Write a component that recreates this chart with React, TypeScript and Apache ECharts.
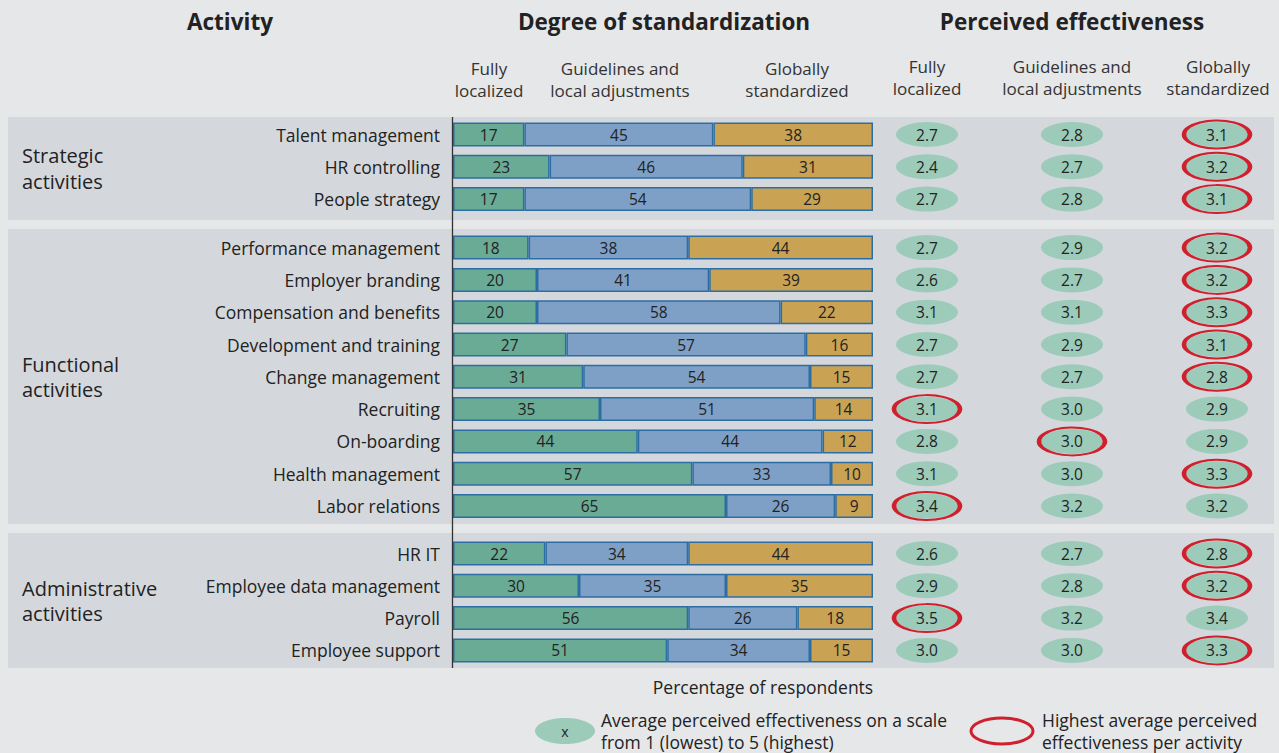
import React, { useEffect, useRef } from "react";
import * as echarts from "echarts";

const strategicActivities = ["Talent management", "HR controlling", "People strategy"];
const functionalActivities = [
  "Performance management",
  "Employer branding",
  "Compensation and benefits",
  "Development and training",
  "Change management",
  "Recruiting",
  "On-boarding",
  "Health management",
  "Labor relations",
];
const administrativeActivities = ["HR IT", "Employee data management", "Payroll", "Employee support"];

const groupLabels = ["Strategic\nactivities", "Functional\nactivities", "Administrative\nactivities"];
const standardizationLevels = ["Fully\nlocalized", "Guidelines and\nlocal adjustments", "Globally\nstandardized"];

// Degree of standardization (% of respondents)
const strategicFully = [17, 23, 17];
const strategicGuidelines = [45, 46, 54];
const strategicGlobal = [38, 31, 29];
const functionalFully = [18, 20, 20, 27, 31, 35, 44, 57, 65];
const functionalGuidelines = [38, 41, 58, 57, 54, 51, 44, 33, 26];
const functionalGlobal = [44, 39, 22, 16, 15, 14, 12, 10, 9];
const adminFully = [22, 30, 56, 51];
const adminGuidelines = [34, 35, 26, 34];
const adminGlobal = [44, 35, 18, 15];

// Perceived effectiveness (1-5)
const strategicEffLocal = [2.7, 2.4, 2.7];
const strategicEffGuidelines = [2.8, 2.7, 2.8];
const strategicEffGlobal = [3.1, 3.2, 3.1];
const functionalEffLocal = [2.7, 2.6, 3.1, 2.7, 2.7, 3.1, 2.8, 3.1, 3.4];
const functionalEffGuidelines = [2.9, 2.7, 3.1, 2.9, 2.7, 3.0, 3.0, 3.0, 3.2];
const functionalEffGlobal = [3.2, 3.2, 3.3, 3.1, 2.8, 2.9, 2.9, 3.3, 3.2];
const adminEffLocal = [2.6, 2.9, 3.5, 3.0];
const adminEffGuidelines = [2.7, 2.8, 3.2, 3.0];
const adminEffGlobal = [2.8, 3.2, 3.4, 3.3];

const groups = [
  { names: strategicActivities, pct: [strategicFully, strategicGuidelines, strategicGlobal], eff: [strategicEffLocal, strategicEffGuidelines, strategicEffGlobal] },
  { names: functionalActivities, pct: [functionalFully, functionalGuidelines, functionalGlobal], eff: [functionalEffLocal, functionalEffGuidelines, functionalEffGlobal] },
  { names: administrativeActivities, pct: [adminFully, adminGuidelines, adminGlobal], eff: [adminEffLocal, adminEffGuidelines, adminEffGlobal] },
];

const FONT = "Open Sans";
const TEXT = "#222";
const BG = "#e6e7e9";
const BAND = "#d4d8dc";
const BAR_COLORS = ["#6aab95", "#7ea0c6", "#c9a253"];
const BAR_BORDER = "#2c6ea3";
const ELL = "#9ccbb9";
const RED = "#d0202e";

const PITCH = 32.3;
const gridTops = [118.35, 231.45, 537.35];
const bands = [
  [117, 220],
  [229, 524],
  [533, 668],
];
const BAR_LEFT = 453;
const BAR_W = 420;
const EFF_LEFT = 927;
const EFF_W = 290;

export default function App() {
  const ref = useRef<HTMLDivElement>(null);
  useEffect(() => {
    if (!ref.current) return;
    const chart = echarts.init(ref.current, undefined, { renderer: "svg" });
    const grid: any[] = [];
    const xAxis: any[] = [];
    const yAxis: any[] = [];
    const series: any[] = [];

    groups.forEach((g, gi) => {
      const h = g.names.length * PITCH;
      grid.push({ left: BAR_LEFT, top: gridTops[gi], width: BAR_W, height: h, containLabel: false });
      grid.push({ left: EFF_LEFT, top: gridTops[gi], width: EFF_W, height: h, containLabel: false });
      const bi = gi * 2;
      const ei = gi * 2 + 1;
      xAxis.push({ gridIndex: bi, type: "value", min: 0, max: 100, show: false });
      xAxis.push({ gridIndex: ei, type: "category", data: standardizationLevels, boundaryGap: false, show: false });
      yAxis.push({
        gridIndex: bi,
        type: "category",
        inverse: true,
        data: g.names,
        axisLine: { show: false },
        axisTick: { show: false },
        axisLabel: { margin: 13, fontSize: 17.5, color: TEXT, fontFamily: FONT },
      });
      yAxis.push({ gridIndex: ei, type: "category", inverse: true, data: g.names, show: false });

      g.pct.forEach((vals, k) => {
        series.push({
          type: "bar",
          name: standardizationLevels[k],
          xAxisIndex: bi,
          yAxisIndex: bi,
          stack: "s" + gi,
          barWidth: 24,
          data: vals,
          itemStyle: { color: BAR_COLORS[k], borderColor: BAR_BORDER, borderWidth: 1.5 },
          label: { show: true, position: "inside", fontSize: 15.5, color: TEXT, fontFamily: FONT },
        });
      });

      const effData: any[] = [];
      const highData: any[] = [];
      g.names.forEach((_, r) => {
        const rowVals = g.eff.map((arr) => arr[r]);
        const mx = Math.max(...rowVals);
        rowVals.forEach((v, c) => {
          effData.push([c, r, v]);
          if (v === mx) highData.push([c, r, v]);
        });
      });
      series.push({
        type: "scatter",
        xAxisIndex: ei,
        yAxisIndex: ei,
        symbol: "circle",
        symbolSize: [62, 25],
        data: effData,
        itemStyle: { color: ELL, opacity: 1 },
        label: {
          show: true,
          position: "inside",
          fontSize: 15.5,
          color: TEXT,
          fontFamily: FONT,
          formatter: (p: any) => p.value[2].toFixed(1),
        },
        z: 3,
      });
      series.push({
        type: "scatter",
        xAxisIndex: ei,
        yAxisIndex: ei,
        symbol: "circle",
        symbolSize: [66, 28],
        data: highData,
        itemStyle: { color: "rgba(0,0,0,0)", borderColor: RED, borderWidth: 3, opacity: 1 },
        label: { show: false },
        silent: true,
        z: 4,
      });
    });

    const txt = (text: string, x: number, y: number, opts: any = {}) => ({
      type: "text",
      x,
      y,
      silent: true,
      style: {
        text,
        fill: opts.fill || TEXT,
        fontSize: opts.fontSize || 16,
        fontWeight: opts.fontWeight || "normal",
        fontFamily: FONT,
        textAlign: opts.align || "center",
        textVerticalAlign: "middle",
      },
      z: 10,
    });
    // multi-line text as separate single-line texts
    const lines = (text: string, x: number, y0: number, pitch: number, opts: any = {}) =>
      text.split("\n").map((t, i) => txt(t, x, y0 + i * pitch, opts));

    const graphic: any[] = [];
    bands.forEach((b) => {
      graphic.push({ type: "rect", shape: { x: 8, y: b[0], width: 1266, height: b[1] - b[0] }, style: { fill: BAND }, z: -10, silent: true });
    });
    graphic.push({ type: "line", shape: { x1: 452.5, y1: 117, x2: 452.5, y2: 668 }, style: { stroke: "#333", lineWidth: 1.3 }, z: 5, silent: true });
    graphic.push(txt("Activity", 230, 21, { fontSize: 22.5, fontWeight: "bold" }));
    graphic.push(txt("Degree of standardization", 664, 21, { fontSize: 22.5, fontWeight: "bold" }));
    graphic.push(txt("Perceived effectiveness", 1072, 21, { fontSize: 22.5, fontWeight: "bold" }));
    const leftSubX = [489, 620, 797];
    const rightSubX = [927, 1072, 1218];
    standardizationLevels.forEach((s, i) => {
      graphic.push(...lines(s, leftSubX[i], 68.5, 21.5, { fontSize: 17, fill: "#333" }));
      graphic.push(...lines(s, rightSubX[i], 66.5, 21.5, { fontSize: 17, fill: "#333" }));
    });
    const groupY = [155.5, 364, 588];
    groupLabels.forEach((s, i) => {
      graphic.push(...lines(s, 22, groupY[i], 25.5, { fontSize: 20, align: "left" }));
    });
    graphic.push(txt("Percentage of respondents", 763, 687, { fontSize: 17.5 }));
    graphic.push({ type: "ellipse", shape: { cx: 565, cy: 731, rx: 30, ry: 13 }, style: { fill: ELL }, silent: true });
    graphic.push(txt("x", 565, 731, { fontSize: 14 }));
    graphic.push(...lines("Average perceived effectiveness on a scale\nfrom 1 (lowest) to 5 (highest)", 601, 720, 22, { fontSize: 17.5, align: "left" }));
    graphic.push({ type: "ellipse", shape: { cx: 1002, cy: 731, rx: 31, ry: 13 }, style: { fill: "none", stroke: RED, lineWidth: 3 }, silent: true });
    graphic.push(...lines("Highest average perceived\neffectiveness per activity", 1042, 720, 22, { fontSize: 17.5, align: "left" }));

    chart.setOption({
      animation: false,
      backgroundColor: BG,
      textStyle: { fontFamily: FONT },
      grid,
      xAxis,
      yAxis,
      series,
      graphic,
    });
    return () => chart.dispose();
  }, []);
  return <div ref={ref} style={{ position: "fixed", left: 0, top: 0, width: 1279, height: 753 }} />;
}
